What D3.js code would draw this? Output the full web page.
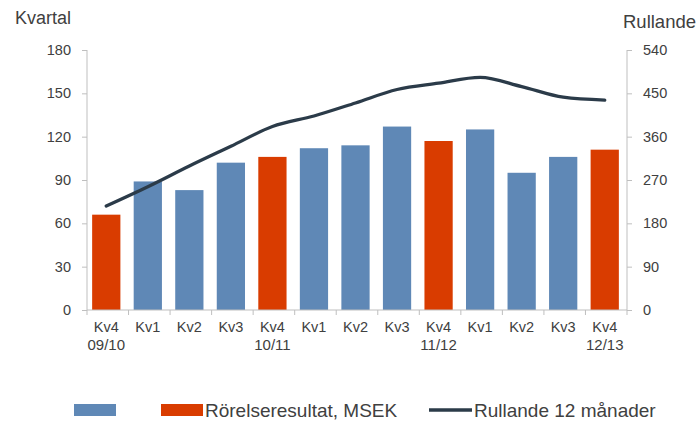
<!DOCTYPE html>
<html><head><meta charset="utf-8">
<script src="https://cdn.jsdelivr.net/npm/d3@7"></script>
<style>
body{margin:0;background:#fff;}
svg text{font-family:"Liberation Sans",Arial,sans-serif;fill:#404040;}
</style></head><body>
<svg id="c" width="700" height="421"></svg>
<script>
const quarters = ["Kv4","Kv1","Kv2","Kv3","Kv4","Kv1","Kv2","Kv3","Kv4","Kv1","Kv2","Kv3","Kv4"];
const years = ["09/10","","","","10/11","","","","11/12","","","","12/13"];
const barValues = [66,89,83,102,106,112,114,127,117,125,95,106,111];
const barIsQ4 = [true,false,false,false,true,false,false,false,true,false,false,false,true];
const rolling = [216,256,299,340,381,403,430,458,471,483,464,442,436];
const leftTicks = [0,30,60,90,120,150,180];
const rightTicks = [0,90,180,270,360,450,540];
const legendLabels = ["", "Rörelseresultat, MSEK", "Rullande 12 månader"];

const blue = "#5f88b6", red = "#d93c00", lineColor = "#2b3b49", axisColor = "#bfbfbf";
const svg = d3.select("#c");
const x0 = 87, x1 = 627, yTop = 50, yBot = 310;
const idx = d3.range(quarters.length);
const x = d3.scaleBand().domain(idx).range([x0 - 1.5, x1 - 1.5]).paddingInner(0.32).paddingOuter(0.16);
const yL = d3.scaleLinear().domain([0,180]).range([yBot, yTop]);
const yR = d3.scaleLinear().domain([0,540]).range([yBot, yTop]);

// bars
svg.append("g").selectAll("rect").data(idx).join("rect")
  .attr("x", i => x(i)).attr("width", x.bandwidth())
  .attr("y", i => yL(barValues[i])).attr("height", i => yBot - yL(barValues[i]))
  .attr("fill", i => barIsQ4[i] ? red : blue);

// line
const line = d3.line().x(i => x(i) + x.bandwidth()/2).y(i => yR(rolling[i])).curve(d3.curveMonotoneX);
svg.append("path").attr("d", line(idx)).attr("fill","none").attr("stroke",lineColor)
  .attr("stroke-width",3.3).attr("stroke-linecap","round").attr("stroke-linejoin","round");

// axes
const gl = svg.append("g").attr("transform",`translate(${x0},0)`)
  .call(d3.axisLeft(yL).tickValues(leftTicks).tickSize(5).tickPadding(11));
const gr = svg.append("g").attr("transform",`translate(${x1},0)`)
  .call(d3.axisRight(yR).tickValues(rightTicks).tickSize(5).tickPadding(11));
[gl,gr].forEach(g=>{
  g.selectAll("path,line").attr("stroke",axisColor);
  g.select(".domain").attr("d", `M0,${yTop}V${yBot}`);
  g.selectAll("text").style("font-size","14.5px").attr("fill","#404040");
});

// bottom axis
const gb = svg.append("g");
gb.append("line").attr("x1",x0).attr("x2",x1).attr("y1",yBot).attr("y2",yBot).attr("stroke",axisColor);
gb.selectAll("line.t").data(d3.range(quarters.length+1)).join("line").attr("class","t")
  .attr("x1", i => x0 + i*(x1-x0)/quarters.length).attr("x2", i => x0 + i*(x1-x0)/quarters.length)
  .attr("y1", yBot).attr("y2", yBot+5).attr("stroke",axisColor);
gb.selectAll("text.q").data(idx).join("text").attr("class","q")
  .attr("x", i => x(i)+x.bandwidth()/2).attr("y", 332).attr("text-anchor","middle")
  .style("font-size","14.5px").text(i => quarters[i]);
gb.selectAll("text.yr").data(idx.filter(i=>years[i])).join("text").attr("class","yr")
  .attr("x", i => x(i)+x.bandwidth()/2).attr("y", 350).attr("text-anchor","middle")
  .style("font-size","15px").text(i => years[i]);

// axis titles
svg.append("text").attr("x",15).attr("y",24).style("font-size","18px").text("Kvartal");
svg.append("text").attr("x",623).attr("y",27.5).style("font-size","18.5px").text("Rullande");

// legend
const lg = svg.append("g");
lg.append("rect").attr("x",74).attr("y",404).attr("width",42).attr("height",12).attr("fill",blue);
lg.append("rect").attr("x",161).attr("y",404).attr("width",42).attr("height",12).attr("fill",red);
lg.append("text").attr("x",205).attr("y",417).style("font-size","19px").text(legendLabels[1]);
lg.append("line").attr("x1",429).attr("x2",472).attr("y1",410).attr("y2",410).attr("stroke",lineColor).attr("stroke-width",3.3);
lg.append("text").attr("x",474).attr("y",417).style("font-size","19px").text(legendLabels[2]);
</script></body></html>
